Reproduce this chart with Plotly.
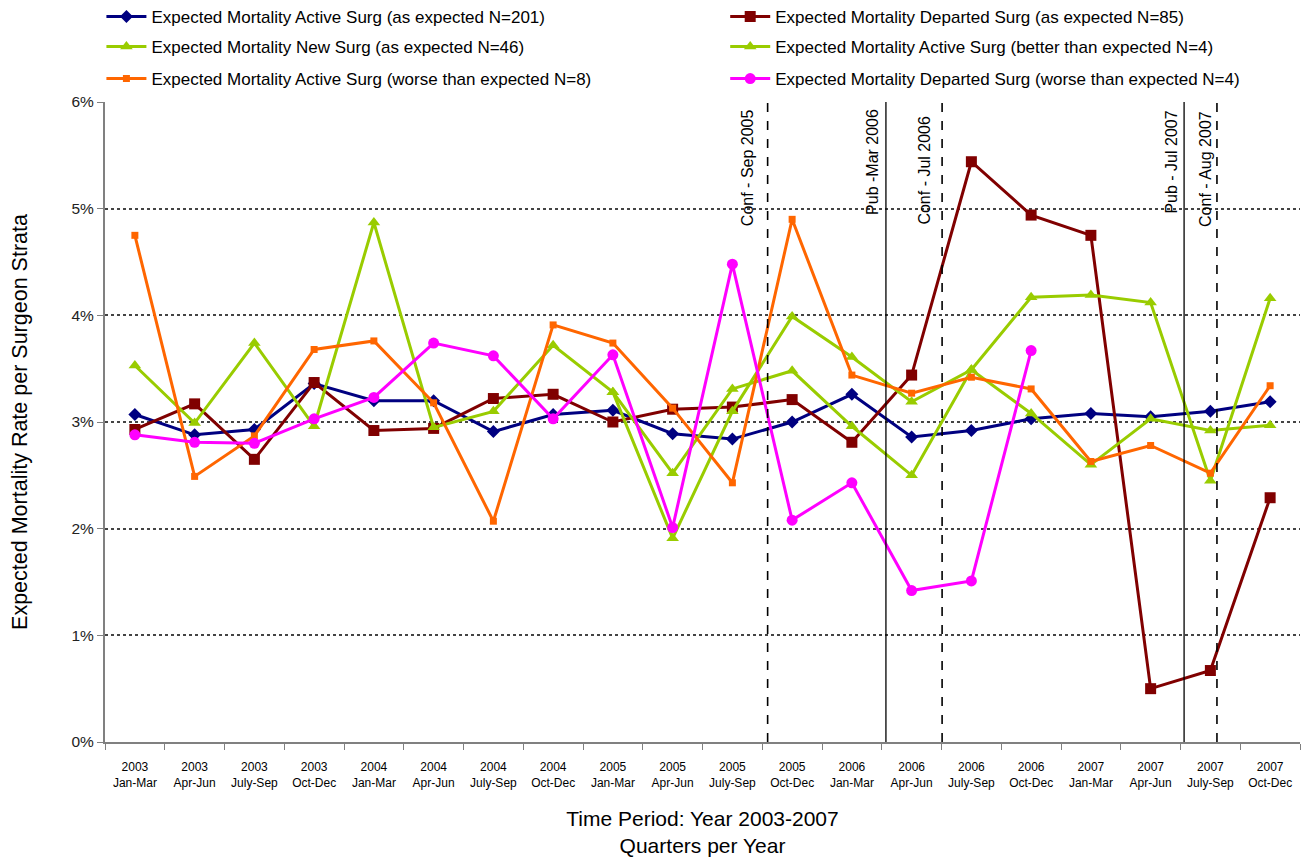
import plotly.graph_objects as go

years = ["2003"] * 4 + ["2004"] * 4 + ["2005"] * 4 + ["2006"] * 4 + ["2007"] * 4
quarters = ["Jan-Mar", "Apr-Jun", "July-Sep", "Oct-Dec"] * 5
categories = [f"{y}<br>{q}" for y, q in zip(years, quarters)]

active_expected = [3.07, 2.88, 2.93, 3.36, 3.20, 3.20, 2.91, 3.07, 3.11, 2.89,
                   2.84, 3.00, 3.26, 2.86, 2.92, 3.03, 3.08, 3.05, 3.10, 3.19]
departed_expected = [2.93, 3.17, 2.65, 3.37, 2.92, 2.94, 3.22, 3.26, 3.00, 3.12,
                     3.14, 3.21, 2.81, 3.44, 5.44, 4.94, 4.75, 0.50, 0.67, 2.29]
new_expected = [3.53, 2.99, 3.74, 2.96, 4.87, 2.95, 3.10, 3.72, 3.28, 2.52,
                3.31, 3.48, 2.96, 2.50, 3.49, 3.08, 2.60, 3.03, 2.92, 2.97]
active_better = [None, None, None, None, None, None, None, None, 3.28, 1.91,
                 3.10, 3.99, 3.61, 3.19, 3.49, 4.17, 4.19, 4.12, 2.45, 4.16]
active_worse = [4.75, 2.49, 2.87, 3.68, 3.76, 3.18, 2.07, 3.91, 3.74, 3.13,
                2.43, 4.90, 3.44, 3.27, 3.42, 3.31, 2.63, 2.78, 2.52, 3.34]
departed_worse = [2.88, 2.81, 2.80, 3.03, 3.23, 3.74, 3.62, 3.03, 3.63, 2.01,
                  4.48, 2.08, 2.43, 1.42, 1.51, 3.67, None, None, None, None]

event_labels = ["Conf - Sep 2005", "Pub -Mar 2006", "Conf - Jul 2006", "Pub - Jul 2007", "Conf - Aug 2007"]
event_pos = [10.59, 12.57, 13.51, 17.56, 18.11]
event_dash = ["dash", "solid", "dash", "solid", "dash"]
event_shift = [-20, -14, -18, -13, -12]
event_top = [-5, -5, -12, -7, -7]

series = [
    ("Expected Mortality Active Surg (as expected N=201)", active_expected, "#000080", "diamond", 10),
    ("Expected Mortality Departed Surg (as expected N=85)", departed_expected, "#800000", "square", 11),
    ("Expected Mortality New Surg (as expected N=46)", new_expected, "#99CC00", "triangle-up", 11),
    ("Expected Mortality Active Surg (better than expected N=4)", active_better, "#99CC00", "triangle-up", 11),
    ("Expected Mortality Active Surg (worse than expected N=8)", active_worse, "#FF6600", "square", 7),
    ("Expected Mortality Departed Surg (worse than expected N=4)", departed_worse, "#FF00FF", "circle", 11),
]
# legend slot per series: column x and row y (paper units)
legend_x = [-0.003, 0.519, -0.003, 0.519, -0.003, 0.519]
legend_y = [1.1328, 1.1328, 1.0859, 1.0859, 1.0359, 1.0359]

fig = go.Figure()
legend_layout = {}
for i, (name, vals, color, sym, size) in enumerate(series):
    key = "legend" if i == 0 else f"legend{i + 1}"
    fig.add_trace(go.Scatter(
        x=categories, y=vals, name=name, mode="lines+markers",
        line=dict(color=color, width=3),
        marker=dict(symbol=sym, size=size, color=color),
        legend=key, connectgaps=False, showlegend=True,
    ))
    legend_layout[key] = dict(
        x=legend_x[i], y=legend_y[i], xanchor="left", yanchor="middle",
        orientation="h", itemwidth=40, font=dict(size=17, color="black"),
        bgcolor="rgba(0,0,0,0)", visible=True,
    )

for pos, dash in zip(event_pos, event_dash):
    fig.add_shape(type="line", xref="x", yref="paper", x0=pos, x1=pos, y0=0, y1=1,
                  line=dict(color="black", width=1.6 if dash == "dash" else 1.3, dash=dash))
for lab, pos, sh, top in zip(event_labels, event_pos, event_shift, event_top):
    fig.add_annotation(x=pos, y=1, xref="x", yref="paper", text=lab, showarrow=False,
                       textangle=-90, xanchor="center", yanchor="top", xshift=sh, yshift=top,
                       font=dict(size=16, color="black"))

# page body adds an 8px offset, so the figure is sized/margined to compensate
fig.update_layout(
    width=1303, height=853, showlegend=True,
    margin=dict(l=97, r=11, t=94, b=119, autoexpand=False),
    paper_bgcolor="white", plot_bgcolor="white",
    font=dict(family="Liberation Sans, Arial, sans-serif", color="black"),
    xaxis=dict(
        type="category", range=[-0.5, 19.5], showline=True, linecolor="#808080", linewidth=2,
        ticks="outside", tickson="boundaries", ticklen=6, tickcolor="#808080",
        tickfont=dict(size=12), ticklabelstandoff=13, showgrid=False, automargin=False,
        title=dict(text="Time Period: Year 2003-2007<br>Quarters per Year", font=dict(size=21), standoff=22),
    ),
    yaxis=dict(
        range=[0, 6], tickvals=[0, 1, 2, 3, 4, 5, 6], ticktext=["0%", "1%", "2%", "3%", "4%", "5%", "6%"],
        showline=True, linecolor="#808080", linewidth=2, ticks="outside", ticklen=6, tickcolor="#808080",
        showgrid=False, zeroline=False, tickfont=dict(size=15.5, color="#222"), automargin=False,
        minor=dict(tickvals=[1, 2, 3, 4, 5], showgrid=True, griddash="dot", gridcolor="#444", gridwidth=1.5, ticks=""),
        title=dict(text="Expected Mortality Rate per Surgeon Strata", font=dict(size=21.5), standoff=38),
    ),
    **legend_layout,
)

fig.write_html("out.html")
